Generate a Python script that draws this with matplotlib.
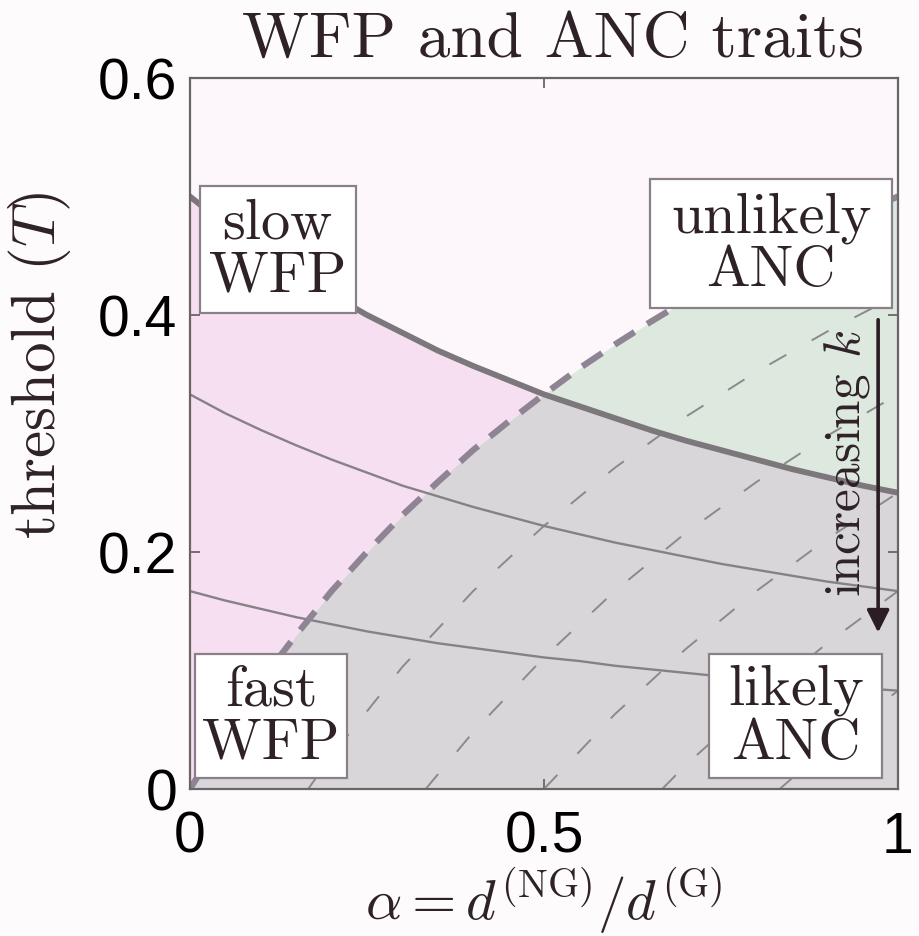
import numpy as np
import matplotlib
matplotlib.use("Agg")
import matplotlib.pyplot as plt
from matplotlib.patches import Rectangle

# alpha grid and the curves read along it
alpha = [0.0, 0.05, 0.1, 0.15, 0.2, 0.25, 0.3, 0.35, 0.4, 0.45, 0.5,
         0.55, 0.6, 0.65, 0.7, 0.75, 0.8, 0.85, 0.9, 0.95, 1.0]
t_wfp = [0.500, 0.476, 0.455, 0.435, 0.417, 0.400, 0.385, 0.370, 0.357, 0.345, 0.333,
         0.323, 0.313, 0.303, 0.294, 0.286, 0.278, 0.270, 0.263, 0.256, 0.250]
t_mid = [0.333, 0.317, 0.303, 0.290, 0.278, 0.267, 0.256, 0.247, 0.238, 0.230, 0.222,
         0.215, 0.208, 0.202, 0.196, 0.190, 0.185, 0.180, 0.175, 0.171, 0.167]
t_low = [0.167, 0.159, 0.152, 0.145, 0.139, 0.133, 0.128, 0.123, 0.119, 0.115, 0.111,
         0.108, 0.104, 0.101, 0.098, 0.095, 0.093, 0.090, 0.088, 0.085, 0.083]
t_anc = [0.000, 0.048, 0.091, 0.130, 0.167, 0.200, 0.231, 0.259, 0.286, 0.310, 0.333,
         0.355, 0.375, 0.394, 0.412, 0.429, 0.444, 0.459, 0.474, 0.487, 0.500]

# thin dashed contours (alpha, T)
contour_alpha = [
    [0.167, 0.2, 0.3, 0.4, 0.5, 0.6, 0.7, 0.8, 0.9, 1.0],
    [0.333, 0.4, 0.5, 0.6, 0.7, 0.8, 0.9, 1.0],
    [0.5, 0.6, 0.7, 0.8, 0.9, 1.0],
    [0.667, 0.7, 0.8, 0.9, 1.0],
    [0.833, 0.9, 1.0],
]
contour_t = [
    [0.0, 0.028, 0.103, 0.167, 0.222, 0.271, 0.314, 0.352, 0.386, 0.417],
    [0.0, 0.048, 0.111, 0.167, 0.216, 0.259, 0.298, 0.333],
    [0.0, 0.063, 0.118, 0.167, 0.211, 0.250],
    [0.0, 0.020, 0.074, 0.123, 0.167],
    [0.0, 0.035, 0.083],
]

x_ticks = [0, 0.5, 1]
x_ticklabels = ["0", "0.5", "1"]
y_ticks = [0, 0.2, 0.4, 0.6]
y_ticklabels = ["0", "0.2", "0.4", "0.6"]

# region labels: text and box extent (alpha0, alpha1, T0, T1)
region_text = ["slow\nWFP", "unlikely\nANC", "fast\nWFP", "likely\nANC"]
region_box = [
    (0.014, 0.234, 0.402, 0.509),
    (0.650, 0.992, 0.406, 0.515),
    (0.007, 0.222, 0.009, 0.114),
    (0.733, 0.978, 0.009, 0.114),
]

plt.rcParams["mathtext.fontset"] = "cm"
plt.rcParams["axes.unicode_minus"] = False
serif = "cmr10"
sans = "Liberation Sans"
ink = "#2e2228"

fig = plt.figure(figsize=(9.19, 9.37), dpi=100, facecolor="#fefbfd")
ax = fig.add_axes([0.2067, 0.1569, 0.7704, 0.7588])
ax.set_facecolor("#fdf6fb")

a = np.array(alpha)
wfp = np.array(t_wfp)
anc = np.array(t_anc)

# regions
ax.fill_between(a, 0, np.minimum(wfp, anc), color="#d9d6d9", lw=0, zorder=1)
ax.fill_between(a, anc, wfp, where=anc <= wfp, interpolate=True,
                color="#f6dff1", lw=0, zorder=1)
ax.fill_between(a, wfp, anc, where=anc >= wfp, interpolate=True,
                color="#dde8df", lw=0, zorder=1)

for ca, ct in zip(contour_alpha, contour_t):
    ax.plot(ca, ct, color="#8c898c", lw=1.4, dashes=(10, 15), zorder=2)

ax.plot(alpha, t_mid, color="#878187", lw=1.7, zorder=3)
ax.plot(alpha, t_low, color="#878187", lw=1.7, zorder=3)
ax.plot(alpha, t_anc, color="#8f8494", lw=4.5, dashes=(3.8, 2.4), zorder=4)
ax.plot(alpha, t_wfp, color="#7b777b", lw=4.2, zorder=5)

for txt, (x0, x1, y0, y1) in zip(region_text, region_box):
    ax.add_patch(Rectangle((x0, y0), x1 - x0, y1 - y0, fc="white",
                           ec="#8a8088", lw=1.6, zorder=6))
    ax.text((x0 + x1) / 2, (y0 + y1) / 2, txt, family=serif, fontsize=42,
            color=ink, ha="center", va="center", linespacing=1.05, zorder=7)

ax.annotate("", xy=(0.972, 0.132), xytext=(0.972, 0.396),
            arrowprops=dict(arrowstyle="-|>", lw=2.6, color="#2b1d25",
                            mutation_scale=34, shrinkA=0, shrinkB=0),
            zorder=7)
ax.text(0.928, 0.276, r"increasing $k$", family=serif, fontsize=37,
        color=ink, rotation=90, ha="center", va="center", zorder=7)

ax.set_xlim(0, 1)
ax.set_ylim(0, 0.6)
ax.set_xticks(x_ticks)
ax.set_xticklabels(x_ticklabels, family=sans, fontsize=41)
ax.set_yticks(y_ticks)
ax.set_yticklabels(y_ticklabels, family=sans, fontsize=41)
ax.tick_params(direction="in", length=7, width=1.3, color="#6b6468",
               top=True, right=True, pad=9)
ax.tick_params(axis="x", pad=15)
for s in ax.spines.values():
    s.set_color("#6b6468")
    s.set_linewidth(1.6)
    s.set_zorder(8)

ax.set_title("WFP and ANC traits", family=serif, fontsize=47,
             color=ink, pad=16, x=0.513)
ax.set_ylabel(r"threshold $(T)$", family=serif, fontsize=44, color=ink)
ax.yaxis.set_label_coords(-0.165, 0.597)
ax.set_xlabel(r"$\alpha = d^{(\mathrm{NG})}/d^{(\mathrm{G})}$", fontsize=41,
              color=ink, labelpad=0)

fig.savefig("out.png", dpi=100, facecolor=fig.get_facecolor())
